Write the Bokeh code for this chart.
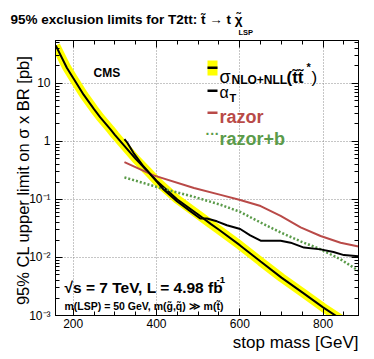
import math
from bokeh.plotting import figure
from bokeh.models import (Range1d, LinearAxis, LogAxis, SingleIntervalTicker, LogTicker,
                          CustomJSTickFormatter, Label, BoxAnnotation, Title)
from bokeh.embed import file_html
from bokeh.resources import INLINE

# ---------------- data ----------------
theory_mass = [158, 185, 200, 225, 250, 265, 290, 300, 338, 350, 386, 400, 450, 500,
               530, 550, 600, 650, 700, 750, 800, 850, 885]
theory_xsec = [45, 18.5, 12.4, 6.4, 3.6, 2.6, 1.6, 1.3, 0.63, 0.5, 0.27, 0.21, 0.10, 0.055,
               0.038, 0.030, 0.0163, 0.0085, 0.0045, 0.0025, 0.00138, 0.0008, 0.00055]

alphat_mass = [323, 330, 345, 369, 393, 417, 449, 481, 505, 521, 545, 569, 601, 625,
               650, 698, 722, 754, 794, 825, 850, 885]
alphat_xsec = [1.1, 0.95, 0.63, 0.37, 0.235, 0.148, 0.093, 0.063, 0.047, 0.047, 0.042,
               0.036, 0.031, 0.024, 0.0195, 0.0195, 0.018, 0.0148, 0.0138, 0.0124, 0.011, 0.0105]

razor_mass = [323, 393, 490, 554, 601, 650, 698, 746, 794, 842, 885]
razor_xsec = [0.44, 0.26, 0.158, 0.12, 0.098, 0.077, 0.052, 0.033, 0.0235, 0.018, 0.0155]

razorb_mass = [323, 409, 490, 554, 601, 650, 698, 746, 794, 842, 885]
razorb_xsec = [0.24, 0.158, 0.111, 0.081, 0.061, 0.040, 0.027, 0.019, 0.0138, 0.0093, 0.0059]

ytick_values = [0.001, 0.01, 0.1, 1, 10]
ytick_labels = ["10\u207b\u00b3", "10\u207b\u00b2", "10\u207b\u00b9", "1", "10"]

RED = "#b94a48"
GREEN = "#5b9b4a"
FONT = "Liberation Sans"

# ---------------- figure ----------------
FL, FB = 55, 315  # frame left / bottom in page pixels

p = figure(width=374, height=359, x_range=Range1d(157.5, 885), y_range=Range1d(1e-3, 55),
           y_axis_type="log", output_backend="svg", toolbar_location=None,
           min_border_left=55, min_border_right=16, min_border_top=40, min_border_bottom=44)
p.outline_line_color = "black"
p.outline_line_width = 1
p.background_fill_color = "white"
p.border_fill_color = "white"

xticker = SingleIntervalTicker(interval=200, num_minor_ticks=4)
yticker = LogTicker(num_minor_ticks=10)

ylab_fmt = CustomJSTickFormatter(args=dict(vals=ytick_values, labs=ytick_labels), code="""
for (let i = 0; i < vals.length; i++) {
  if (Math.abs(Math.log10(tick) - Math.log10(vals[i])) < 1e-6) return labs[i];
}
return '';
""")
blank_fmt = CustomJSTickFormatter(code="return '';")

def style_axis(ax):
    ax.major_tick_in = 7
    ax.major_tick_out = 0
    ax.minor_tick_in = 4
    ax.minor_tick_out = 0
    ax.axis_line_color = "black"
    ax.major_tick_line_color = "black"
    ax.minor_tick_line_color = "black"
    ax.major_label_text_font = FONT
    ax.major_label_text_font_size = "12px"
    ax.major_label_text_color = "black"

xa = p.xaxis[0]
xa.ticker = xticker
style_axis(xa)
xa.major_label_standoff = 3

ya = p.yaxis[0]
ya.ticker = yticker
ya.formatter = ylab_fmt
style_axis(ya)
ya.major_label_standoff = 5
ya.axis_label = "95% CL upper limit on  \u03c3 x BR [pb]"
ya.axis_label_text_font = FONT
ya.axis_label_text_font_size = "16.5px"
ya.axis_label_text_font_style = "normal"
ya.axis_label_text_color = "black"
ya.axis_label_standoff = -6

top = LinearAxis(ticker=xticker, formatter=blank_fmt)
style_axis(top)
top.major_label_standoff = 0
p.add_layout(top, "above")
right = LogAxis(ticker=yticker, formatter=blank_fmt)
style_axis(right)
right.major_label_standoff = 0
p.add_layout(right, "right")

p.xgrid.ticker = xticker
p.ygrid.ticker = yticker
for g in (p.xgrid[0], p.ygrid[0]):
    g.grid_line_color = "#8c8c8c"
    g.grid_line_dash = "1 2"
    g.grid_line_width = 1

# titles outside the frame
p.title.text = ""
p.add_layout(Title(text="LSP", align="left", offset=183, text_font=FONT,
                   text_font_size="7.5px", text_font_style="bold", text_color="black",
                   standoff=7), "above")
p.add_layout(Title(text="95% exclusion limits for T2tt:  t\u0303 \u2192 t \u03c7\u0303",
                   align="left", offset=-45, text_font=FONT, text_font_size="13.5px",
                   text_font_style="bold", text_color="black", standoff=-9), "above")
p.add_layout(Title(text="stop mass [GeV]", align="right", offset=0, text_font=FONT,
                   text_font_size="17px", text_font_style="normal", text_color="black",
                   standoff=0), "below")

# ---------------- curves ----------------
p.line(theory_mass, theory_xsec, line_color="#ffff00", line_width=9)
p.line(theory_mass, theory_xsec, line_color="black", line_width=2)
p.line(razor_mass, razor_xsec, line_color=RED, line_width=2)
p.line(razorb_mass, razorb_xsec, line_color=GREEN, line_width=2.5, line_dash="2 2")
p.line(alphat_mass, alphat_xsec, line_color="black", line_width=2)

# ---------------- texts inside the frame ----------------
def lab(px, py, text, size, bold=False, color="black", align="left",
        baseline="alphabetic", angle=0.0, font=FONT):
    p.add_layout(Label(x=px - FL, y=FB - py, x_units="screen", y_units="screen",
                       text=text, text_font=font, text_font_size=f"{size}px",
                       text_font_style="bold" if bold else "normal",
                       text_color=color, text_align=align, text_baseline=baseline,
                       angle=angle))

def box(x0, x1, y0, y1, color):
    p.add_layout(BoxAnnotation(left=x0 - FL, right=x1 - FL, bottom=FB - y1, top=FB - y0,
                               left_units="screen", right_units="screen",
                               bottom_units="screen", top_units="screen",
                               fill_color=color, fill_alpha=1.0, line_color=None))

lab(93, 72, "CMS", 12, bold=True)
lab(64, 287, "\u221as = 7 TeV, L = 4.98 fb", 15.5, bold=True)
lab(216, 279, "-1", 9.5, bold=True)
lab(64, 305, "m(LSP) = 50 GeV, m(g\u0303,q\u0303) \u226b m(t\u0303)", 10.5, bold=True)

# legend
box(207, 217, 60, 75, "#ffff00")
box(207, 217, 66, 68.5, "black")
box(207, 217, 89, 91.5, "black")
box(207, 217, 111, 113.5, RED)
lab(212, 133, "\u00b7\u00b7\u00b7", 14, bold=True, color=GREEN, align="center", baseline="middle")

lab(219, 76, "\u03c3", 18)
lab(231, 79, "NLO+NLL", 12, bold=True)
lab(286, 77, "(t\u0303t\u0303", 17, bold=True)
lab(306, 66, "*", 11, bold=True)
lab(311, 77, ")", 17)
lab(219, 92, "\u03b1", 16)
lab(229, 97, "T", 11, bold=True)
lab(219, 116, "razor", 18, bold=True, color=RED)
lab(219, 138, "razor+b", 18, bold=True, color=GREEN)

open("out.html", "w").write(file_html(p, INLINE))
